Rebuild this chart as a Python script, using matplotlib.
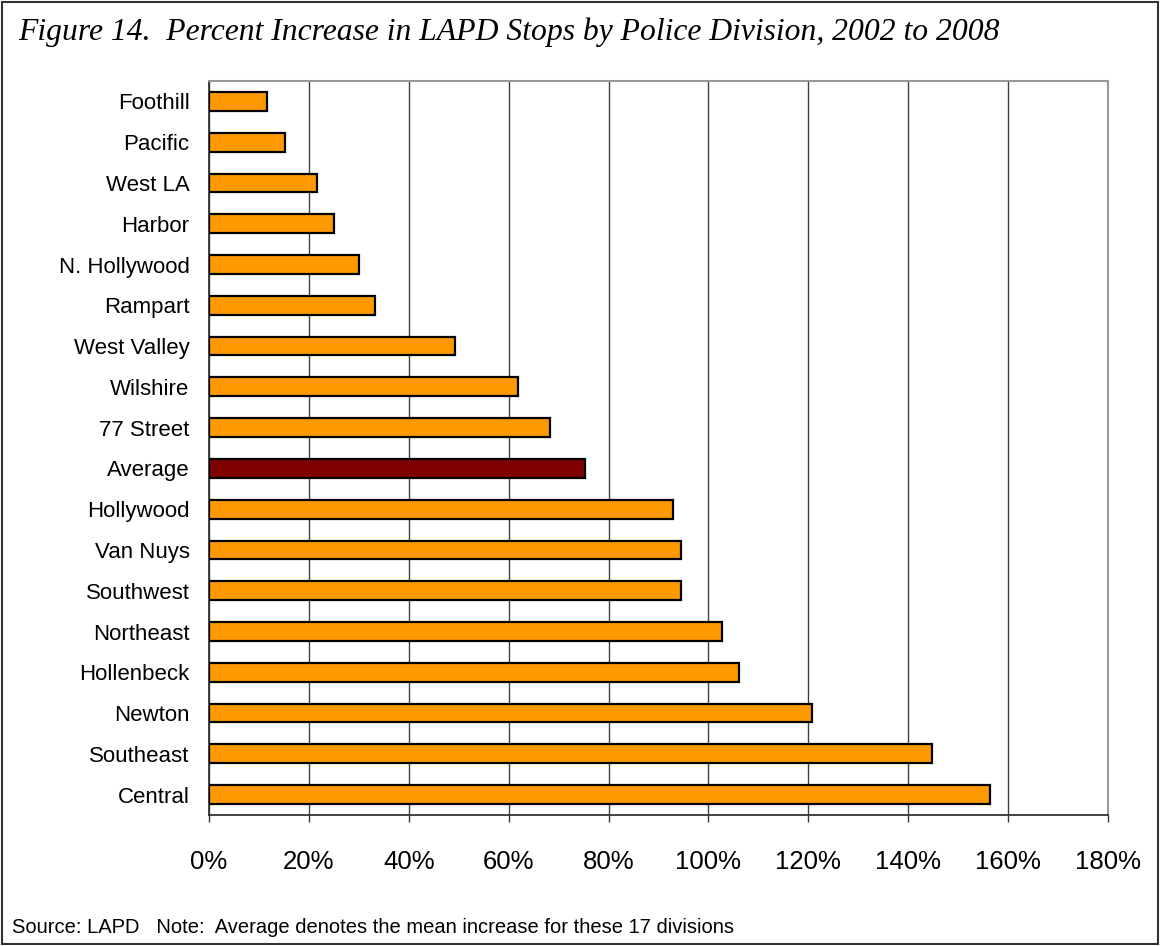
import matplotlib.pyplot as plt
from matplotlib.patches import Rectangle
from matplotlib.ticker import FuncFormatter
import numpy as np

from matplotlib import rcParams
rcParams['font.family'] = 'sans-serif'
rcParams['font.sans-serif'] = ['Liberation Sans', 'DejaVu Sans']

# data, top to bottom as in the figure
divisions = ["Foothill", "Pacific", "West LA", "Harbor", "N. Hollywood", "Rampart",
             "West Valley", "Wilshire", "77 Street", "Average", "Hollywood", "Van Nuys",
             "Southwest", "Northeast", "Hollenbeck", "Newton", "Southeast", "Central"]
pct_increase = [11.6, 15.2, 21.6, 25.0, 30.0, 33.2, 49.2, 61.8, 68.2, 75.2, 93.0, 94.6,
                94.6, 102.8, 106.2, 120.8, 144.8, 156.4]
x_ticks = [0, 20, 40, 60, 80, 100, 120, 140, 160, 180]

c_bar = "#FF9900"
c_avg = "#800000"

fig = plt.figure(figsize=(11.6, 9.46), dpi=100)
ax = fig.add_axes([209/1160, 1-815/946, (1108-209)/1160, (815-81)/946])

y = np.arange(len(divisions))
colors = [c_avg if d == "Average" else c_bar for d in divisions]
ax.barh(y, pct_increase, height=0.46, color=colors, edgecolor="black", lw=1.6, zorder=3)

ax.set_ylim(len(divisions)-0.5, -0.5)
ax.set_xlim(0, 180)
ax.set_yticks(y)
ax.set_yticklabels(divisions, fontsize=16)
ax.set_xticks(x_ticks)
ax.xaxis.set_major_formatter(FuncFormatter(lambda v, p: f"{v:.0f}%"))
ax.tick_params(axis="x", labelsize=18.5, length=5, width=1, color="#333333", pad=20)
ax.tick_params(axis="y", length=0, pad=14)

ax.grid(axis="x", color="#404040", lw=1.0, zorder=0)
ax.set_axisbelow(True)
for s in ["top", "right"]:
    ax.spines[s].set_color("#999999")
    ax.spines[s].set_linewidth(1.5)
for s in ["left", "bottom"]:
    ax.spines[s].set_color("#333333")
    ax.spines[s].set_linewidth(1.3)

### Title, footnote and outer frame
fig.text(18/1160, 1-32/946, "Figure 14.  Percent Increase in LAPD Stops by Police Division, 2002 to 2008",
         family="Liberation Serif", style="italic", fontsize=22.8, va="center", ha="left")
fig.text(12/1160, 1-927/946, "Source: LAPD   Note:  Average denotes the mean increase for these 17 divisions",
         fontsize=14.5, va="center", ha="left")
fig.patches.append(Rectangle((2/1160, 2/946), 1-4/1160, 1-4/946, transform=fig.transFigure,
                             fill=False, edgecolor="#333333", lw=1.5))

plt.savefig("out.png", dpi=100)
